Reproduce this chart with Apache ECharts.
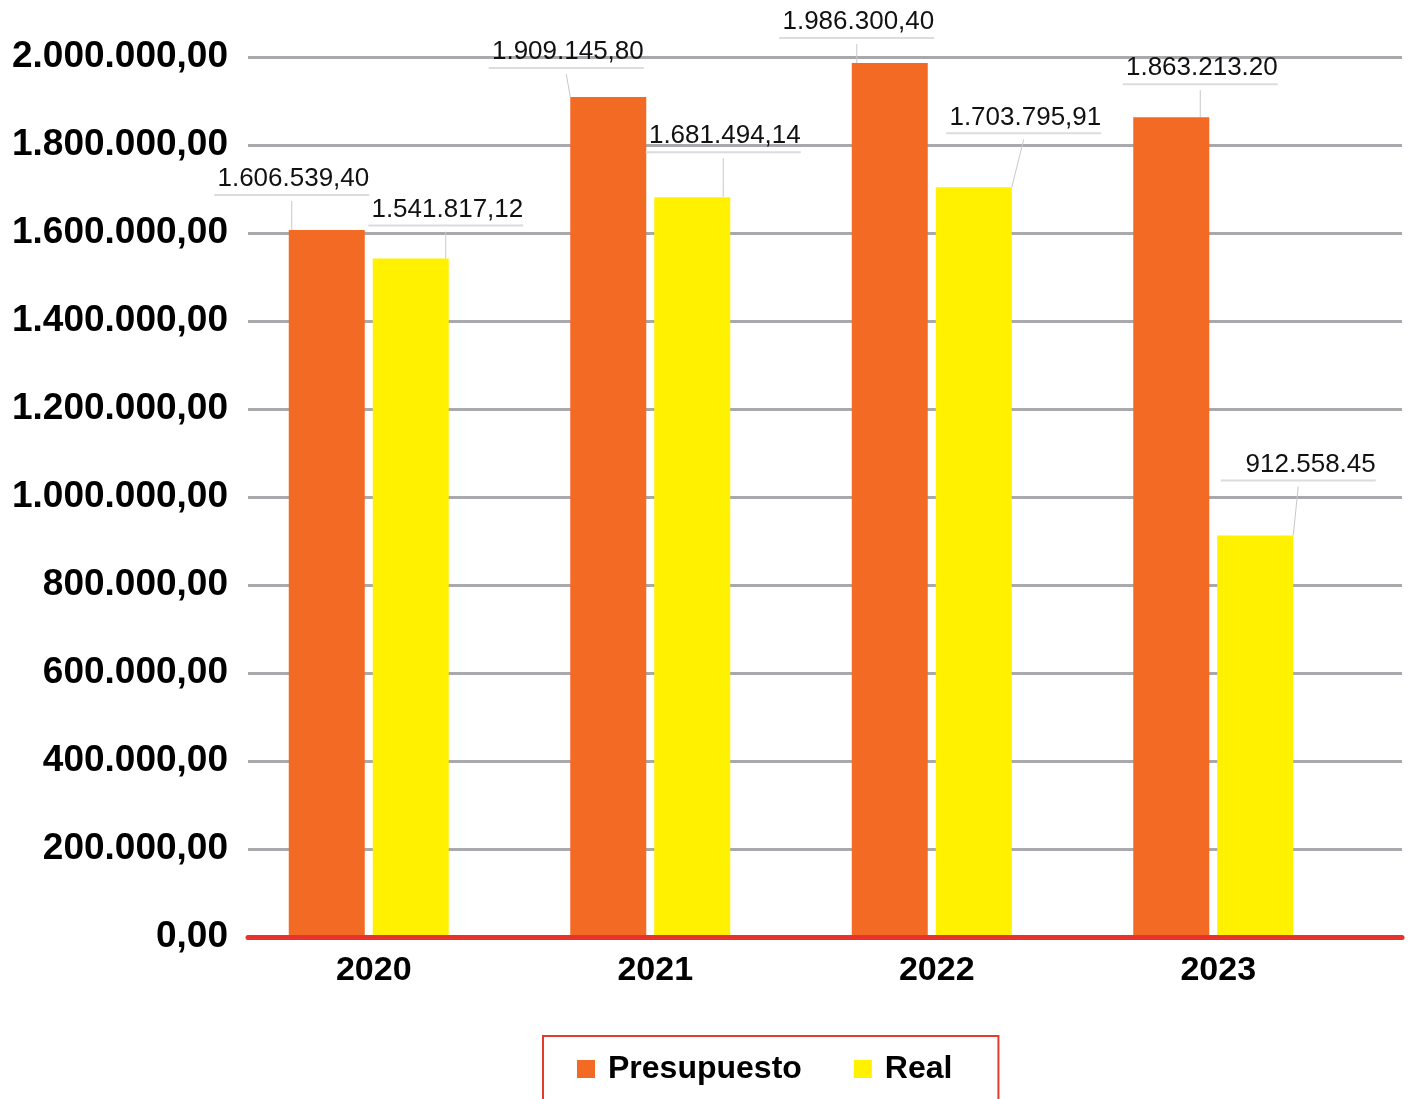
<!DOCTYPE html>
<html>
<head>
<meta charset="utf-8">
<script src="https://cdn.jsdelivr.net/npm/echarts@6/dist/echarts.min.js"></script>
<style>
html,body{margin:0;padding:0;background:#fff;}
#chart{width:1408px;height:1099px;}
</style>
</head>
<body>
<div id="chart"></div>
<script>
// ---- data ----
const categories = ['2020', '2021', '2022', '2023'];
const presupuesto = [1606539.40, 1909145.80, 1986300.40, 1863213.20];
const real = [1541817.12, 1681494.14, 1703795.91, 912558.45];
const presupuestoLabels = ['1.606.539,40', '1.909.145,80', '1.986.300,40', '1.863.213.20'];
const realLabels = ['1.541.817,12', '1.681.494,14', '1.703.795,91', '912.558.45'];
const yTickLabels = ['0,00', '200.000,00', '400.000,00', '600.000,00', '800.000,00', '1.000.000,00',
  '1.200.000,00', '1.400.000,00', '1.600.000,00', '1.800.000,00', '2.000.000,00'];
const seriesNames = ['Presupuesto', 'Real'];

// ---- layout: label callout offsets relative to bar top centre [dx, dy] ----
const labelOffsetP = [[-35, -34], [-42, -28], [-33, -24], [29, -32]];
const labelOffsetR = [[35, -32], [31, -44], [50, -53], [43, -54]];
// leader line x shifts relative to bar centre [at bar top, at label]
const leaderP = [[-7, -42], [-3, -41], [7, -36], [22, 44]];
const leaderR = [[-1, 36], [2, 45], [25, 55], [18, 28]];

const FONT = '"Liberation Sans", Arial, Helvetica, sans-serif';
const Y_MAX = 2000000, Y_INT = 200000;

function labelCfg(texts) {
  return {
    show: true,
    position: 'top',
    distance: 0,
    formatter: p => '{t|' + texts[p.dataIndex] + '}\n{u|}',
    rich: {
      t: { fontFamily: FONT, fontSize: 26, lineHeight: 30, color: '#111', align: 'right' },
      u: { width: 155, height: 2, lineHeight: 2, backgroundColor: '#dcdcdc' }
    }
  };
}

function layoutFn(offsets, leaders) {
  return p => {
    const o = offsets[p.dataIndex];
    const l = leaders[p.dataIndex];
    const r = p.rect;
    const cx = r.x + r.width / 2;
    return {
      dx: o[0], dy: o[1],
      labelLinePoints: [[cx + l[0], r.y], [cx + l[1], r.y + o[1] - 1]]
    };
  };
}

const chart = echarts.init(document.getElementById('chart'), null, { renderer: 'canvas' });
chart.setOption({
  animation: false,
  backgroundColor: '#ffffff',
  grid: [
    { left: 248, right: 6, top: 57, bottom: 162 },
    { left: 228, right: 54, top: 57, bottom: 162 }
  ],
  xAxis: [
    {
      gridIndex: 0, type: 'value', min: 0, max: 1, z: 10,
      axisLine: { show: true, lineStyle: { color: '#e8322b', width: 5 } },
      axisTick: { show: false }, axisLabel: { show: false }, splitLine: { show: false }
    },
    {
      gridIndex: 1, type: 'category', data: categories,
      axisLine: { show: false }, axisTick: { show: false },
      axisLabel: { fontFamily: FONT, fontSize: 34, fontWeight: 'bold', color: '#000', margin: 17, padding: [0, 0, 0, 10] }
    }
  ],
  yAxis: [
    {
      gridIndex: 0, type: 'value', min: 0, max: Y_MAX, interval: Y_INT,
      axisLine: { show: false }, axisTick: { show: false },
      axisLabel: {
        fontFamily: FONT, fontSize: 37, fontWeight: 'bold', color: '#000', margin: 20,
        formatter: v => yTickLabels[Math.round(v / Y_INT)]
      },
      splitLine: { show: true, lineStyle: { color: '#a7a9ac', width: 3 } }
    },
    {
      gridIndex: 1, type: 'value', min: 0, max: Y_MAX, interval: Y_INT, show: false,
      splitLine: { show: false }
    }
  ],
  legend: {
    data: seriesNames,
    left: 543, top: 1036,
    orient: 'horizontal',
    padding: [17, 46, 40, 34],
    itemWidth: 18, itemHeight: 18, itemGap: 52,
    icon: 'rect',
    borderColor: '#e53a2f', borderWidth: 2,
    textStyle: { fontFamily: FONT, fontSize: 32, fontWeight: 'bold', color: '#000', lineHeight: 32, padding: [0, 0, 0, 8] }
  },
  series: [
    {
      name: seriesNames[0], type: 'bar', xAxisIndex: 1, yAxisIndex: 1,
      data: presupuesto, barWidth: 76, barGap: '10.5%',
      itemStyle: { color: '#f26a24' },
      label: labelCfg(presupuestoLabels),
      labelLine: { show: true, lineStyle: { color: '#c8c8c8', width: 1 } },
      labelLayout: layoutFn(labelOffsetP, leaderP)
    },
    {
      name: seriesNames[1], type: 'bar', xAxisIndex: 1, yAxisIndex: 1,
      data: real, barWidth: 76, barGap: '10.5%',
      itemStyle: { color: '#fff100' },
      label: labelCfg(realLabels),
      labelLine: { show: true, lineStyle: { color: '#c8c8c8', width: 1 } },
      labelLayout: layoutFn(labelOffsetR, leaderR)
    }
  ]
});
</script>
</body>
</html>
